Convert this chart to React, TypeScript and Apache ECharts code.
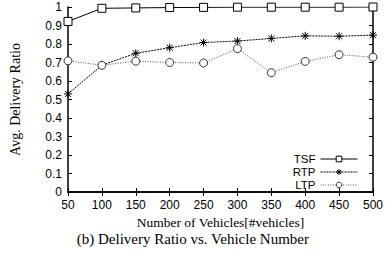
import React, { useEffect, useRef } from "react";
import * as echarts from "echarts";

const vehicles = [50, 100, 150, 200, 250, 300, 350, 400, 450, 500];
const tsf = [0.922, 0.993, 0.995, 0.997, 0.998, 0.999, 0.999, 0.999, 0.999, 1.0];
const rtp = [0.53, 0.685, 0.75, 0.78, 0.808, 0.816, 0.83, 0.844, 0.842, 0.848];
const ltp = [0.709, 0.685, 0.707, 0.7, 0.697, 0.775, 0.645, 0.706, 0.742, 0.729];

const asterisk = "path://M-4,0L4,0M0,-4L0,4M-3,-3L3,3M-3,3L3,-3";

export default function App() {
  const ref = useRef<HTMLDivElement>(null);
  useEffect(() => {
    const chart = echarts.init(ref.current!, null, { renderer: "svg" });
    const pair = (ys: number[]) => vehicles.map((v, i) => [v, ys[i]]);
    const sans = "Liberation Sans";
    const serif = "Liberation Serif";
    chart.setOption({
      animation: false,
      backgroundColor: "#fff",
      grid: { left: 67, right: 12, top: 7, bottom: 63 },
      xAxis: [
        {
          type: "value", min: 50, max: 500, interval: 50,
          axisLine: { lineStyle: { color: "#000", width: 1.5 } },
          axisTick: { inside: true, length: 4, lineStyle: { color: "#000" } },
          axisLabel: { color: "#000", fontFamily: sans, fontSize: 12, margin: 7 },
          splitLine: { show: false },
          name: "Number of Vehicles[#vehicles]",
          nameLocation: "middle", nameGap: 20,
          nameTextStyle: { color: "#000", fontFamily: serif, fontSize: 13.5, lineHeight: 13 },
        },
        {
          type: "value", min: 50, max: 500, interval: 50, position: "top",
          axisLine: { lineStyle: { color: "#000", width: 1.5 } },
          axisTick: { inside: true, length: 4, lineStyle: { color: "#000" } },
          axisLabel: { show: false }, splitLine: { show: false },
        },
      ],
      yAxis: [
        {
          type: "value", min: 0, max: 1, interval: 0.1,
          axisLine: { show: true, lineStyle: { color: "#000", width: 1.5 } },
          axisTick: { show: true, inside: true, length: 4, lineStyle: { color: "#000" } },
          axisLabel: { color: "#000", fontFamily: sans, fontSize: 12, margin: 6 },
          splitLine: { show: false },
          name: "Avg. Delivery Ratio",
          nameLocation: "middle", nameGap: 46,
          nameTextStyle: { color: "#000", fontFamily: serif, fontSize: 14 },
        },
        {
          type: "value", min: 0, max: 1, interval: 0.1, position: "right",
          axisLine: { show: true, lineStyle: { color: "#000", width: 1.5 } },
          axisTick: { show: true, inside: true, length: 4, lineStyle: { color: "#000" } },
          axisLabel: { show: false }, splitLine: { show: false },
        },
      ],
      legend: {
        orient: "vertical", right: 28, top: 153, align: "right", padding: 0,
        itemWidth: 37, itemHeight: 7, itemGap: 1,
        lineStyle: { width: 1 },
        itemStyle: { borderWidth: 1 },
        textStyle: { color: "#000", fontFamily: sans, fontSize: 11.5, lineHeight: 11, padding: [0, 0, 0, 0] },
        data: ["TSF", "RTP", "LTP"],
      },
      graphic: [
        {
          type: "text", left: "center", top: 231,
          style: { text: "(b) Delivery Ratio vs. Vehicle Number", font: `15px "${serif}"`, fill: "#000" },
        },
      ],
      series: [
        {
          name: "TSF", type: "line", data: pair(tsf), symbol: "rect", symbolSize: 8,
          itemStyle: { color: "#fff", borderColor: "#000", borderWidth: 1 },
          lineStyle: { color: "#000", width: 1 },
        },
        {
          name: "RTP", type: "line", data: pair(rtp), symbol: asterisk, symbolSize: 8,
          itemStyle: { color: "#000", borderColor: "#000", borderWidth: 1 },
          lineStyle: { color: "#000", width: 1, type: [2, 1] },
        },
        {
          name: "LTP", type: "line", data: pair(ltp), symbol: "circle", symbolSize: 8,
          itemStyle: { color: "#fff", borderColor: "#333", borderWidth: 1 },
          lineStyle: { color: "#555", width: 1, type: [1, 1.5] },
        },
      ],
    });
    return () => chart.dispose();
  }, []);
  return <div ref={ref} style={{ width: 386, height: 255, position: "fixed", left: 0, top: 0 }} />;
}
